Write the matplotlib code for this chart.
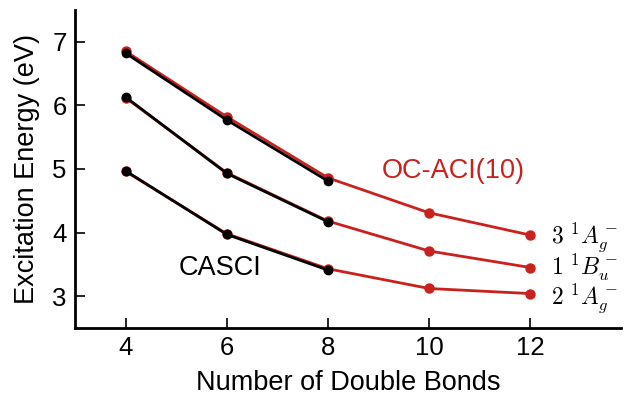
import matplotlib
matplotlib.use("Agg")
import matplotlib.pyplot as plt

plt.rcParams['font.family'] = ['Liberation Sans', 'DejaVu Sans']
plt.rcParams['mathtext.fontset'] = 'cm'

# number of double bonds
n_aci = [4, 6, 8, 10, 12]
n_casci = [4, 6, 8]

# OC-ACI(10) excitation energies (eV)
aci_3Ag = [6.85, 5.82, 4.86, 4.31, 3.96]
aci_1Bu = [6.12, 4.94, 4.18, 3.71, 3.45]
aci_2Ag = [4.96, 3.98, 3.43, 3.12, 3.04]

# CASCI excitation energies (eV)
casci_3Ag = [6.82, 5.77, 4.81]
casci_1Bu = [6.13, 4.93, 4.17]
casci_2Ag = [4.97, 3.97, 3.41]

state_labels = [r'$3\ ^1A_g^-$', r'$1\ ^1B_u^-$', r'$2\ ^1A_g^-$']
label_y = [3.93, 3.45, 2.97]

red = '#c9211e'

fig = plt.figure(figsize=(6.25, 3.97), dpi=100)
ax = fig.add_axes([0.12, 0.174, 0.874, 0.801])

for ys in (aci_3Ag, aci_1Bu, aci_2Ag):
    ax.plot(n_aci, ys, '-o', color=red, lw=2, ms=6.5, zorder=2)
for ys in (casci_3Ag, casci_1Bu, casci_2Ag):
    ax.plot(n_casci, ys, '-o', color='black', lw=2, ms=6, zorder=3)

# state labels at the right end
for y, lab in zip(label_y, state_labels):
    ax.text(12.42, y, lab, fontsize=17, va='center', ha='left')

ax.text(10.47, 4.96, 'OC-ACI(10)', color=red, fontsize=19.5, ha='center', va='center')
ax.text(5.86, 3.45, 'CASCI', color='black', fontsize=19.5, ha='center', va='center')

ax.set_xlim(3, 13.8)
ax.set_ylim(2.5, 7.5)
ax.set_xticks([4, 6, 8, 10, 12])
ax.set_yticks([3, 4, 5, 6, 7])
ax.set_xlabel('Number of Double Bonds', fontsize=19.5, labelpad=7)
ax.set_ylabel('Excitation Energy (eV)', fontsize=19.5, labelpad=9)

for s in ('top', 'right'):
    ax.spines[s].set_visible(False)
for s in ('left', 'bottom'):
    ax.spines[s].set_linewidth(2)
ax.tick_params(direction='in', length=7, width=1.2, labelsize=18.5, pad=6)

fig.savefig('out.png', dpi=100)
